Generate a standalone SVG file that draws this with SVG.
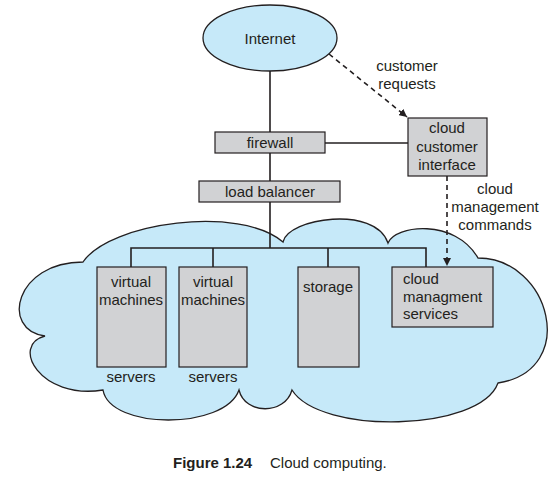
<svg xmlns="http://www.w3.org/2000/svg" width="556" height="478" viewBox="0 0 556 478">
<defs>
<style>
.t{font-family:"Liberation Sans",Arial,sans-serif;font-size:15px;fill:#231f20}
.c{text-anchor:middle}
.box{fill:#d1d2d4;stroke:#231f20;stroke-width:1.2}
.ln{fill:none;stroke:#231f20;stroke-width:1.6}
.dash{fill:none;stroke:#231f20;stroke-width:1.6;stroke-dasharray:5 4}
.sky{fill:#c6e9f9;stroke:#231f20;stroke-width:1.3}
</style>
<marker id="ah" viewBox="0 0 10 10" refX="10" refY="5" markerWidth="8" markerHeight="8" markerUnits="userSpaceOnUse" orient="auto">
<path d="M0,0 L10,5 L0,10 Z" fill="#231f20"/>
</marker>
</defs>
<rect width="556" height="478" fill="#ffffff"/>
<g id="cloud">
<path class="sky" d="M83,262 C110,222 240,205 283,242 C288,218 375,205 388,243 C395,225 455,218 478,258 C550,258 580,370 498,383 C480,432 320,435 292,390 C285,415 245,415 239,390 C225,430 110,430 103,390 C40,400 10,345 45,336 C0,330 15,262 83,262 Z"/>
</g>
<g id="connectors">
<line class="ln" x1="270" y1="71" x2="270" y2="248"/>
<line class="ln" x1="325" y1="143" x2="408" y2="143"/>
<polyline class="ln" points="131,267 131,248 426,248 426,267"/>
<line class="ln" x1="213" y1="248" x2="213" y2="267"/>
<line class="ln" x1="328" y1="248" x2="328" y2="267"/>
<line class="dash" x1="329" y1="54" x2="407" y2="117" marker-end="url(#ah)"/>
<line class="dash" x1="447" y1="176" x2="447" y2="266" marker-end="url(#ah)"/>
</g>
<g id="internet">
<ellipse class="sky" cx="270" cy="38" rx="67" ry="33"/>
<text class="t c" x="270" y="44">Internet</text>
</g>
<g id="firewall">
<rect class="box" x="215" y="132" width="110" height="21"/>
<text class="t c" x="270" y="148">firewall</text>
</g>
<g id="load-balancer">
<rect class="box" x="199" y="181" width="141" height="21"/>
<text class="t c" x="270" y="197">load balancer</text>
</g>
<g id="cloud-customer-interface">
<rect class="box" x="408" y="118" width="79" height="58"/>
<text class="t c" x="447" y="133">cloud</text>
<text class="t c" x="447" y="152">customer</text>
<text class="t c" x="447" y="170">interface</text>
</g>
<g id="vm1">
<rect class="box" x="97" y="267" width="69" height="100"/>
<text class="t c" x="131" y="287">virtual</text>
<text class="t c" x="131" y="305">machines</text>
<text class="t c" x="131" y="382">servers</text>
</g>
<g id="vm2">
<rect class="box" x="179" y="267" width="68" height="100"/>
<text class="t c" x="213" y="287">virtual</text>
<text class="t c" x="213" y="305">machines</text>
<text class="t c" x="213" y="382">servers</text>
</g>
<g id="storage">
<rect class="box" x="298" y="267" width="61" height="100"/>
<text class="t c" x="328" y="292">storage</text>
</g>
<g id="cloud-management-services">
<rect class="box" x="392" y="267" width="101" height="60"/>
<text class="t" x="403" y="284">cloud</text>
<text class="t" x="403" y="302">managment</text>
<text class="t" x="403" y="319">services</text>
</g>
<g id="labels">
<text class="t c" x="407" y="71">customer</text>
<text class="t c" x="407" y="89">requests</text>
<text class="t c" x="495" y="194">cloud</text>
<text class="t c" x="495" y="212">management</text>
<text class="t c" x="495" y="230">commands</text>
</g>
<g id="caption">
<text class="t" x="173" y="468"><tspan font-weight="bold">Figure 1.24</tspan><tspan x="270">Cloud computing.</tspan></text>
</g>
</svg>
